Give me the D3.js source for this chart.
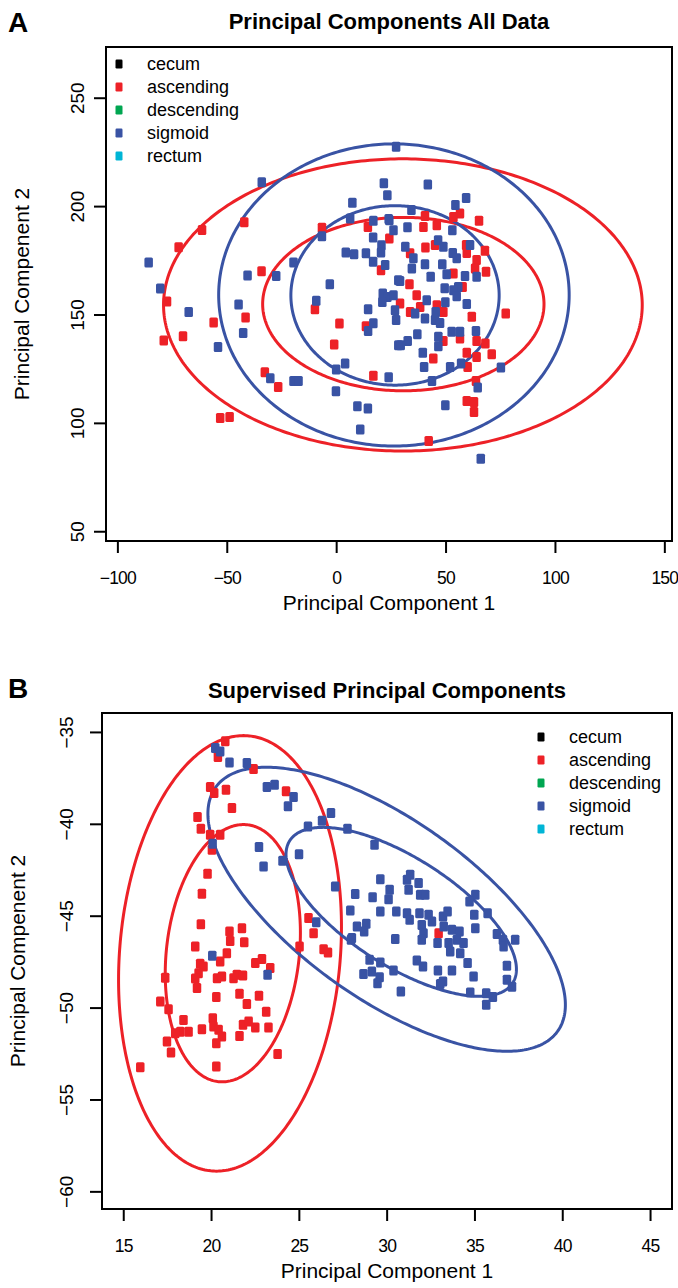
<!DOCTYPE html>
<html lang="en">
<head>
<meta charset="utf-8">
<title>Principal Components</title>
<script src="https://d3js.org/d3.v7.min.js"></script>
<style>
  body { margin: 0; background: #fff; }
  svg { display: block; font-family: "Liberation Sans", Arial, Helvetica, sans-serif; }
</style>
</head>
<body>
<script>

// legend groups (same for both panels)
var groups = ["cecum", "ascending", "descending", "sigmoid", "rectum"];
var groupColors = ["#000000", "#ED2127", "#00A651", "#3953A4", "#00B5D6"];

// ---- panel A : all data ----
var pcaXTicks = [-100, -50, 0, 50, 100, 150];
var pcaYTicks = [50, 100, 150, 200, 250];

var pcaAscX = [-42, -61.3, -72, -34.1, -77.3, -78.8, -70, -56, -41.4, -32.6, -26.5, -53, -48.7, 17, -0.9, 1.5, 13.6, -9.7, 20.5, 24.3, 14.5, -6.5,
  56.6, 65.3, 40.6, 39.9, 46, 40.8, 45.2, 59.4, 59.7, 68, 64.2, 53.6, 68.5, 33.5, 57.8, 36.8, 46, 77.5, 62, 49, 38.4, 33.8,
  56.6, 64.2, 68.2, 49, 44.4, 59.7, 64.2, 60.1, 71.1, 63.9, 59.7, 63, 63, 42.3, 29.2, 33.8, 63.5, 53.6];
var pcaAscY = [192.5, 189, 181, 170, 156, 138, 140, 146.3, 148.6, 123.4, 116.6, 102.3, 102.7, 121.7, 136.2, 145.8, 144.6, 152.4, 170.4, 185, 190.4, 190,
  196.6, 193.2, 195.4, 190.4, 191.2, 180.9, 182, 182, 178.4, 179.4, 175.1, 168.9, 169.7, 164, 162.7, 158.9, 154.3, 150.5, 148.9, 151.2, 153.5, 151.2,
  138.9, 137.8, 136.6, 137.8, 129.7, 132.3, 130.4, 125.8, 131.7, 119.3, 110.1, 109.6, 105, 91.6, 155.1, 178.2, 171.2, 195];

var pcaSigX = [-34, -85.7, -80.4, -40.5, -27.4, -19.5, -67.4, -44.6, -42.5, -54, -30.1, -19.5, -17.2, -0.1, 9.7, 14.5, 11, 24, 4.1, 0, 17, 14.6, -9.1, 14.6,
  -2.9, 4.4, 8.2, 13.6, 16.9, 20.7, 20.5, 22.4, 16.9, 24.3, 17, -6.5, 7.4, 6.4, 21.8, 23.4, 27.4, 21.3, 23.4, 26.2, 21.1, 26.9, 27.4, 28.4, 28.4,
  41.9, 59.4, 54.5, 34.4, 32.6, 53.1, 31.6, 46.6, 49, 53.3, 61.2, 55.1, 40.6, 48.5, 50.5, 58.9, 64.2, 43.2, 29.2, 49.6, 55.8, 41.4, 49.9, 59.7,
  45.5, 36.1, 40.6, 45.2, 47.5, 52.8, 56.6, 63.9, 37.1, 46.7, 46.7, 32.7, 29.5, 39.6, 40.2, 52.1, 57.1, 75.3, 43.8, 64.7, 49.9, 66.1, 24, 26.2,
  35.3, 34.6, 53.6, 55.1];
var pcaSigY = [211, 174, 162, 168, 167.8, 174, 151.2, 154.6, 141.5, 135, 120.6, 119.3, 119.3, 114.6, 107.7, 106.6, 96.9, 121, 127.4, 124.6, 146, 142.4, 156.3, 152.4,
  164, 178.6, 177.8, 178.3, 174.3, 181.9, 178.6, 172.8, 185.5, 193.5, 193.2, 186.1, 201.5, 194.3, 210.5, 205, 227.4, 159.7, 158.1, 158.9, 155.8, 152, 147.4, 165.8, 135.8,
  210, 203.7, 200.5, 198.2, 190.2, 188.9, 181.2, 184.3, 181.2, 178.4, 182, 175.9, 173.2, 173.2, 168.6, 167.7, 167.4, 167.4, 165.5, 162.1, 162.7, 156.6, 155.7, 154.8,
  151.2, 150.5, 148.2, 147.4, 146.1, 142, 142, 142.4, 140.9, 139.7, 135.4, 137.8, 135.8, 132.3, 125.8, 125.8, 127.4, 125.5, 119.3, 116.3, 108.1, 83.5, 194, 188.9,
  175.9, 171.2, 161.2, 158.4];

// ellipses: centre x, centre y, first half-axis (dx, dy), second half-axis (dx, dy)
var pcaAscEllipses = [[30.5, 154.4, 0, 67.4, 109.4, 0], [30.7, 154.8, 0, 40, 64.3, 0]];
var pcaSigEllipses = [[26.4, 159, 0, 69.7, 80.1, 0], [26.9, 158.8, 0, 41.4, 47.6, 0]];

// ---- panel B : supervised ----
var spcXTicks = [15, 20, 25, 30, 35, 40, 45];
var spcYTicks = [-60, -55, -50, -45, -40, -35];

var spcAscX = [20.81, 20.39, 22.42, 19.95, 20.18, 20.85, 21.19, 24.27, 19.23, 19.42, 19.95, 20.52, 20.05, 19.8, 19.48, 19.42, 21.05, 21.09, 21.76, 21.89,
  19.1, 20.9, 20.52, 19.38, 19.57, 19.29, 19.1, 19.2, 20.34, 20.62, 21.28, 21.47, 21.82, 22.52, 22.9, 23.37, 17.39, 20.3, 21.62, 22.04, 22.73, 23.14,
  17.11, 17.58, 18.43, 18.25, 18.72, 17.96, 19.48, 20.1, 20.14, 20.43, 20.62, 20.3, 21.62, 21.82, 22.14, 22.52, 23.27, 17.49, 17.72, 23.79, 20.3, 15.97,
  25.55, 25.84, 25.04, 26.41, 26.66, 32.96];
var spcAscY = [-35.51, -36.36, -37.02, -38.0, -38.32, -38.14, -39.14, -38.23, -39.63, -40.27, -40.59, -40.59, -41.41, -42.72, -43.81, -45.46, -45.86, -46.37, -45.68, -46.44,
  -46.68, -47.04, -47.49, -47.62, -47.77, -48.13, -48.42, -48.94, -48.4, -48.31, -48.4, -48.22, -48.26, -47.58, -47.36, -47.85, -48.37, -49.43, -49.25, -49.8, -49.36, -50.22,
  -49.67, -50.09, -50.67, -51.31, -51.31, -51.4, -51.18, -50.58, -51.03, -51.21, -51.58, -51.94, -51.54, -50.94, -50.76, -51.09, -51.09, -51.85, -52.45, -52.52, -53.21, -53.25,
  -45.13, -45.95, -46.68, -46.82, -47.0, -45.95];

var spcSigX = [20.24, 20.52, 21.05, 22.04, 23.18, 23.62, 24.7, 24.38, 26.83, 26.32, 25.52, 27.77, 20.09, 22.73, 22.99, 24.07, 25.01, 27.07, 28.21, 27.93,
  28.31, 25.99, 28.02, 20.07, 23.22, 29.31, 29.64, 29.2, 29.64, 30.17, 30.11, 31.16, 31.34, 31.82, 31.91, 32.2, 31.25, 30.55, 31.16, 31.31,
  31.87, 32.39, 32.58, 32.0, 32.1, 32.0, 33.21, 33.25, 33.47, 33.72, 34.15, 34.0, 33.53, 33.62, 34.38, 34.19, 32.9, 30.49, 35.05, 34.72,
  34.99, 35.75, 35.05, 36.28, 36.62, 36.66, 37.32, 27.97, 28.84, 28.72, 29.03, 29.64, 29.16, 29.6, 28.68, 29.48, 30.39, 30.81, 31.72, 32.07,
  32.92, 33.72, 33.21, 33.05, 34.61, 34.95, 34.76, 35.67, 36.05, 35.67, 36.85, 36.85, 37.14];
var spcSigY = [-35.87, -36.06, -36.66, -36.69, -38.0, -37.87, -38.54, -39.05, -39.41, -39.83, -40.14, -40.27, -41.08, -41.26, -42.32, -42.01, -41.65, -43.41, -43.82, -44.72,
  -45.59, -45.35, -46.22, -47.18, -48.22, -41.14, -43.01, -43.99, -44.77, -43.59, -44.1, -43.04, -42.77, -43.22, -43.86, -43.86, -43.59, -44.77, -44.86, -45.22,
  -44.86, -44.95, -45.32, -45.5, -45.95, -46.31, -45.04, -45.59, -44.77, -45.77, -45.86, -46.31, -46.49, -46.95, -46.49, -47.04, -46.49, -46.27, -43.86, -44.23,
  -44.95, -44.86, -45.68, -45.99, -46.31, -46.68, -46.31, -46.31, -45.44, -45.86, -47.4, -47.55, -48.04, -48.35, -48.17, -48.67, -47.98, -49.13, -47.44, -47.77,
  -47.98, -47.98, -48.58, -48.71, -47.58, -48.31, -49.18, -49.22, -49.43, -49.85, -47.73, -48.49, -48.86];

var spcAscEllipses = [[21.08, -47.05, 0.77, 11.85, 6.3, 0], [21.24, -47.04, 0.61, 7.0, 3.8, 0]];
var spcSigEllipses = [[30.0, -44.65, 9.8, -6.55, -2.75, -4.1], [30.83, -44.79, 6.35, -3.87, -1.65, -2.48]];

// -------------------------------------------------------------

var W = 678, H = 1288;
var svg = d3.select("body").append("svg").attr("width", W).attr("height", H);

var panels = [
  { letter: "A", title: "Principal Components All Data",
    left: 106, right: 672, top: 47, bottom: 541,
    xDomain: [-105.2, 153.5], yDomain: [45.5, 273.4],
    xTicks: pcaXTicks, yTicks: pcaYTicks, yLabOff: 22.5, yTitleX: 22,
    ascX: pcaAscX, ascY: pcaAscY, sigX: pcaSigX, sigY: pcaSigY,
    ascEll: pcaAscEllipses, sigEll: pcaSigEllipses,
    legendX: 119, legendY: 64, letterY: 32, titleY: 21 },
  { letter: "B", title: "Supervised Principal Components",
    left: 102, right: 672, top: 713, bottom: 1209,
    xDomain: [13.79, 46.25], yDomain: [-60.96, -33.97],
    xTicks: spcXTicks, yTicks: spcYTicks, yLabOff: 29, yTitleX: 18,
    ascX: spcAscX, ascY: spcAscY, sigX: spcSigX, sigY: spcSigY,
    ascEll: spcAscEllipses, sigEll: spcSigEllipses,
    legendX: 541, legendY: 737, letterY: 698, titleY: 690 }
];

panels.forEach(drawPanel);

function drawPanel(p) {
  var x = d3.scaleLinear().domain(p.xDomain).range([p.left, p.right]);
  var y = d3.scaleLinear().domain(p.yDomain).range([p.bottom, p.top]);
  var g = svg.append("g");

  // ellipses, drawn as closed curves through the scales
  var ts = d3.range(0, 2 * Math.PI, Math.PI / 180);
  function ellPath(e) {
    return d3.line().curve(d3.curveLinearClosed)
      .x(function(t) { return x(e[0] + e[2] * Math.cos(t) + e[4] * Math.sin(t)); })
      .y(function(t) { return y(e[1] + e[3] * Math.cos(t) + e[5] * Math.sin(t)); })(ts);
  }
  g.selectAll("path.asc").data(p.ascEll).enter().append("path")
    .attr("d", ellPath).attr("fill", "none").attr("stroke", groupColors[1]).attr("stroke-width", 3);
  g.selectAll("path.sig").data(p.sigEll).enter().append("path")
    .attr("d", ellPath).attr("fill", "none").attr("stroke", groupColors[3]).attr("stroke-width", 3);

  // points
  var mw = 8.5, mh = 10;
  function pts(xs, ys, col) {
    g.append("g").selectAll("rect").data(xs).enter().append("rect")
      .attr("x", function(d) { return x(d) - mw / 2; })
      .attr("y", function(d, i) { return y(ys[i]) - mh / 2; })
      .attr("width", mw).attr("height", mh).attr("rx", 1.5)
      .attr("fill", col);
  }
  pts(p.ascX, p.ascY, groupColors[1]);
  pts(p.sigX, p.sigY, groupColors[3]);

  // box
  g.append("rect").attr("x", p.left).attr("y", p.top)
    .attr("width", p.right - p.left).attr("height", p.bottom - p.top)
    .attr("fill", "none").attr("stroke", "#000").attr("stroke-width", 2);

  // axes
  var xa = g.append("g").attr("transform", "translate(0," + p.bottom + ")")
    .call(d3.axisBottom(x).tickValues(p.xTicks).tickSize(12).tickPadding(19).tickFormat(d3.format("d")));
  var ya = g.append("g").attr("transform", "translate(" + p.left + ",0)")
    .call(d3.axisLeft(y).tickValues(p.yTicks).tickSize(12).tickFormat(d3.format("d")));
  [xa, ya].forEach(function(a) {
    a.select(".domain").remove();
    a.selectAll(".tick line").attr("stroke-width", 2);
    a.selectAll("text").attr("font-size", 19).attr("font-family", null).attr("fill", "#000");
  });
  // keep the right-most label inside the window
  xa.selectAll("text").attr("font-size", 17.5).attr("letter-spacing", "-0.8px");
  ya.selectAll("text").attr("transform", "rotate(-90)").attr("x", 0).attr("y", -p.yLabOff)
    .attr("dy", 0).attr("text-anchor", "middle");

  // axis titles
  g.append("text").attr("x", (p.left + p.right) / 2).attr("y", p.bottom + 69)
    .attr("text-anchor", "middle").attr("font-size", 21).text("Principal Component 1");
  g.append("text").attr("transform", "translate(" + p.yTitleX + "," + (p.top + p.bottom) / 2 + ") rotate(-90)")
    .attr("dy", "0.35em").attr("text-anchor", "middle").attr("font-size", 21).text("Principal Compenent 2");

  // title and panel letter
  g.append("text").attr("x", (p.left + p.right) / 2).attr("y", p.titleY).attr("dy", "0.35em")
    .attr("text-anchor", "middle").attr("font-size", 22).attr("font-weight", "bold").text(p.title);
  g.append("text").attr("x", 8).attr("y", p.letterY)
    .attr("font-size", 28).attr("font-weight", "bold").text(p.letter);

  // legend
  var lg = g.append("g").selectAll("g").data(groups).enter().append("g")
    .attr("transform", function(d, i) { return "translate(" + p.legendX + "," + (p.legendY + i * 23) + ")"; });
  lg.append("rect").attr("x", -3.5).attr("y", -4.5).attr("width", 7).attr("height", 9).attr("rx", 1.2)
    .attr("fill", function(d, i) { return groupColors[i]; });
  lg.append("text").attr("x", 28).attr("dy", "0.35em").attr("font-size", 18).text(function(d) { return d; });
}

</script>
</body>
</html>
